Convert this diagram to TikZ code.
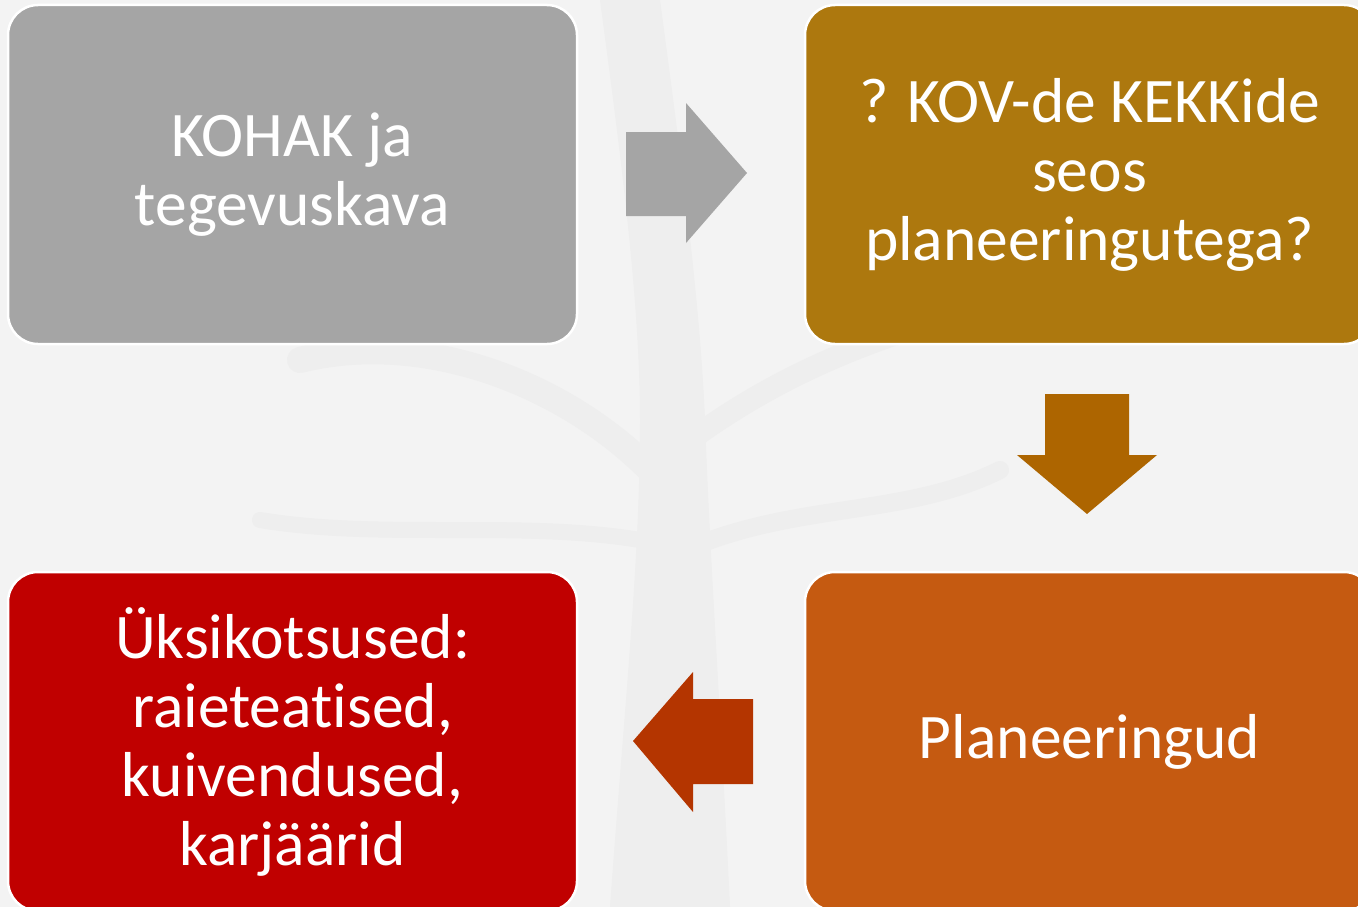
\documentclass[tikz,border=0pt]{standalone}
\usepackage{fontspec}
\setmainfont{Carlito}[Ligatures={NoCommon}, Contextuals={NoAlternate}, RawFeature={-calt}]
\definecolor{bg}{HTML}{F3F3F3}
\definecolor{treec}{HTML}{EEEEEE}
\definecolor{cgray}{HTML}{A5A5A5}
\definecolor{cgold}{HTML}{AD780E}
\definecolor{cgoldarrow}{HTML}{AD6500}
\definecolor{corange}{HTML}{C55A11}
\definecolor{cred}{HTML}{C00000}
\definecolor{credarrow}{HTML}{B43500}
\tikzset{
  box/.style={draw=white, line width=2.5pt, rounded corners=30pt,
    minimum width=569pt, minimum height=339pt, inner sep=0pt,
    text=white, align=center, font=\fontsize{63.5}{69}\selectfont},
}
\begin{document}
\begin{tikzpicture}[x=1pt,y=-1pt]
\useasboundingbox (0,0) rectangle (1358,907);
\clip (0,0) rectangle (1358,907);
\fill[bg] (0,0) rectangle (1358,907);
% faint tree watermark
\begin{scope}[treec, line cap=round]
\fill (610,907) .. controls (625,700) and (640,560) .. (640,420)
  .. controls (640,300) and (620,150) .. (600,0) -- (660,0)
  .. controls (680,150) and (700,300) .. (705,420)
  .. controls (710,560) and (720,700) .. (730,907) -- cycle;
\draw[line width=26pt] (650,470) .. controls (560,380) and (420,330) .. (300,360);
\draw[line width=22pt] (690,440) .. controls (800,360) and (900,330) .. (1010,300);
\draw[line width=18pt] (665,560) .. controls (780,500) and (900,520) .. (1000,470);
\draw[line width=16pt] (640,540) .. controls (520,520) and (380,540) .. (260,520);
\end{scope}
% boxes
\node[box, fill=cgray] (kohak) at (292.5,174.5) {KOHAK ja\\tegevuskava};
\node[box, fill=cgold] (kov) at (1089.5,174.5) {? KOV-de KEKKide\\seos\\planeeringutega?};
\node[box, fill=corange] (plan) at (1089.5,741.5) {Planeeringud};
\node[box, fill=cred] (yksik) at (292.5,741.5) {Üksikotsused:\\raieteatised,\\kuivendused,\\karjäärid};
% block arrows
\fill[cgray] (626,132) -- (686,132) -- (686,103) -- (747,173) -- (686,243) -- (686,216) -- (626,216) -- cycle;
\fill[cgoldarrow] (1045,394) -- (1129,394) -- (1129,455) -- (1157,455) -- (1087,514) -- (1017,455) -- (1045,455) -- cycle;
\fill[credarrow] (753,699) -- (693,699) -- (693,672) -- (633,741) -- (693,812) -- (693,784) -- (753,784) -- cycle;
\end{tikzpicture}
\end{document}
